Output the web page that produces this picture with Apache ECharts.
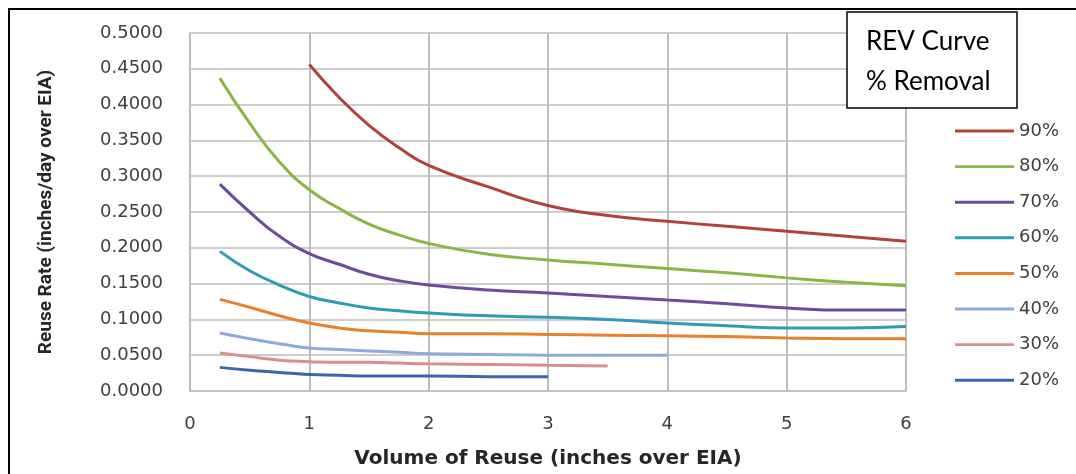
<!DOCTYPE html>
<html>
<head>
<meta charset="utf-8">
<script src="https://cdn.jsdelivr.net/npm/echarts@6/dist/echarts.min.js"></script>
<style>
  html, body { margin: 0; padding: 0; background: #fff; }
  #chart { width: 1076px; height: 474px; }
</style>
</head>
<body>
<div id="chart"></div>
<script>
// Volume of reuse (inches over EIA) at which each curve is sampled
const volume = [0.25, 0.5, 0.75, 1, 1.25, 1.5, 1.75, 2, 2.5, 3, 3.5, 4, 4.5, 5, 5.5, 6];

// Reuse rate (inches/day over EIA) per removal curve; null = not computed
const rev90 = [null, null, null, 0.456, 0.410, 0.371, 0.340, 0.315, 0.285, 0.259, 0.245, 0.237, 0.230, 0.223, 0.216, 0.209];
const rev80 = [0.437, 0.374, 0.320, 0.281, 0.255, 0.233, 0.218, 0.206, 0.191, 0.183, 0.177, 0.171, 0.165, 0.158, 0.152, 0.147];
const rev70 = [0.289, 0.250, 0.216, 0.192, 0.177, 0.163, 0.154, 0.148, 0.141, 0.137, 0.132, 0.127, 0.122, 0.116, 0.113, 0.113];
const rev60 = [0.195, 0.168, 0.148, 0.132, 0.123, 0.116, 0.112, 0.109, 0.105, 0.103, 0.100, 0.095, 0.091, 0.088, 0.088, 0.090];
const rev50 = [0.128, 0.117, 0.105, 0.095, 0.088, 0.084, 0.082, 0.080, 0.080, 0.079, 0.078, 0.077, 0.076, 0.074, 0.073, 0.073];
const rev40 = [0.081, 0.073, 0.066, 0.060, 0.058, 0.056, 0.054, 0.052, 0.051, 0.050, 0.050, 0.050, null, null, null, null];
const rev30 = [0.053, 0.048, 0.043, 0.041, 0.040, 0.040, 0.039, 0.038, 0.037, 0.036, 0.035, null, null, null, null, null];
const rev20 = [0.033, 0.029, 0.026, 0.023, 0.022, 0.021, 0.021, 0.021, 0.020, 0.020, null, null, null, null, null, null];

const curveNames = ['90%', '80%', '70%', '60%', '50%', '40%', '30%', '20%'];
const curveValues = [rev90, rev80, rev70, rev60, rev50, rev40, rev30, rev20];
const curveColors = ['#B3403D', '#8BB545', '#6E4C9C', '#2F9CB6', '#E9802C', '#8DAADA', '#DA8E8D', '#3868AB'];

const boxLines = ['REV Curve', '% Removal'];

const tickFont = 'DejaVu Sans, Verdana, sans-serif';

const series = curveNames.map((name, i) => ({
  name: name,
  type: 'line',
  symbol: 'none',
  smooth: true,
  lineStyle: { width: 3, color: curveColors[i] },
  itemStyle: { color: curveColors[i] },
  data: volume.map((x, j) => [x, curveValues[i][j]]).filter(p => p[1] !== null)
}));

const chart = echarts.init(document.getElementById('chart'), null, { renderer: 'canvas' });

chart.setOption({
  animation: false,
  backgroundColor: '#ffffff',
  grid: { left: 190, right: 170, top: 33, bottom: 82 },
  xAxis: {
    type: 'value',
    min: 0, max: 6, interval: 1,
    name: 'Volume of Reuse (inches over EIA)',
    nameLocation: 'middle',
    nameGap: 58,
    nameTextStyle: { fontFamily: tickFont, fontWeight: 'bold', fontSize: 20, color: '#262626' },
    axisLine: { lineStyle: { color: '#BDBDBD', width: 1.5 } },
    axisTick: { show: false },
    axisLabel: { margin: 24, fontFamily: tickFont, fontSize: 18, color: '#404040' },
    splitLine: { show: true, lineStyle: { color: '#BDBDBD', width: 2 } }
  },
  yAxis: {
    type: 'value',
    min: 0, max: 0.5, interval: 0.05,
    name: 'Reuse Rate (inches/day over EIA)',
    nameLocation: 'middle',
    nameGap: 134,
    nameRotate: 90,
    nameTextStyle: { fontFamily: 'Liberation Sans Narrow, Roboto, sans-serif', fontWeight: 'bold', fontSize: 19, color: '#262626' },
    axisLine: { show: true, lineStyle: { color: '#BDBDBD', width: 2 } },
    axisTick: { show: false },
    axisLabel: { margin: 27, fontFamily: tickFont, fontSize: 18, color: '#404040',
      formatter: v => v.toFixed(4) },
    splitLine: { show: true, lineStyle: { color: '#BDBDBD', width: 1.5 } }
  },
  legend: {
    orient: 'vertical',
    left: 950,
    top: 117,
    itemWidth: 59,
    itemHeight: 18,
    itemGap: 17.6,
    icon: 'path://M0 0H60V3H0Z',
    symbolKeepAspect: true,
    data: curveNames,
    textStyle: { fontFamily: tickFont, fontSize: 18, color: '#404040', lineHeight: 18 }
  },
  graphic: [
    {
      type: 'rect',
      shape: { x: 9, y: 9, width: 1200, height: 600 },
      style: { fill: 'none', stroke: '#000', lineWidth: 2 },
      silent: true
    },
    {
      type: 'rect',
      shape: { x: 847, y: 12, width: 170, height: 96 },
      style: { fill: '#fff', stroke: '#000', lineWidth: 1.5 },
      z: 100
    },
    {
      type: 'text',
      left: 866, top: 29, z: 101,
      style: { text: boxLines[0], font: '26px Lato, "Open Sans", sans-serif', fill: '#000' }
    },
    {
      type: 'text',
      left: 866, top: 69, z: 101,
      style: { text: boxLines[1], font: '26px Lato, "Open Sans", sans-serif', fill: '#000' }
    }
  ],
  series: series
});
</script>
</body>
</html>
